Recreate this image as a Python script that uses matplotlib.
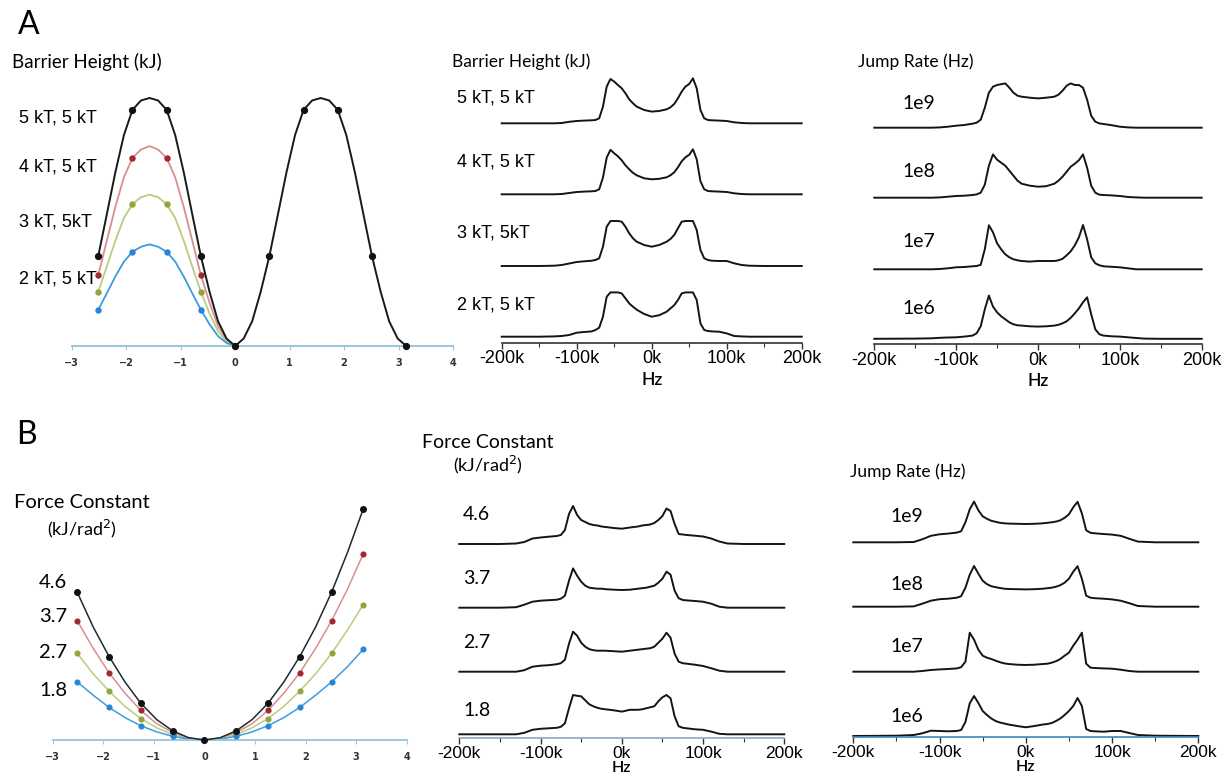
import numpy as np
import matplotlib.pyplot as plt

# ---- data ---------------------------------------------------------------

# panel A left: torsional potential (kT), grid of pi/20 steps from -0.8pi to pi
THETA_A = np.arange(-16, 21) * np.pi / 20
POT_5KT = [1.81, 2.65, 3.5, 4.25, 4.76, 4.95, 5.0, 4.95, 4.76, 4.25, 3.5, 2.65, 1.81,
           1.1, 0.5, 0.15, 0.0, 0.15, 0.5, 1.1, 1.81, 2.65, 3.5, 4.25, 4.76, 4.95, 5.0,
           4.95, 4.76, 4.25, 3.5, 2.65, 1.81, 1.1, 0.5, 0.15, 0.0]
POT_4KT = [1.43, 2.12, 2.8, 3.4, 3.79, 3.96, 4.03, 3.96, 3.79, 3.4, 2.8, 2.12, 1.43,
           0.88, 0.4, 0.12, 0.0]
POT_3KT = [1.09, 1.6, 2.12, 2.58, 2.86, 3.0, 3.05, 3.0, 2.86, 2.58, 2.12, 1.6, 1.09,
           0.66, 0.3, 0.09, 0.0]
POT_2KT = [0.73, 1.06, 1.4, 1.7, 1.9, 2.0, 2.05, 2.0, 1.9, 1.7, 1.4, 1.06, 0.73,
           0.44, 0.2, 0.06, 0.0]

# panel B left: harmonic potential (kJ), grid of pi/10 steps from -0.8pi to pi
THETA_B = np.arange(-8, 11) * np.pi / 10
HARM_46 = [14.5, 11.1, 8.2, 5.7, 3.6, 2.0, 0.9, 0.23, 0.0, 0.23, 0.9, 2.0, 3.6, 5.7,
           8.2, 11.1, 14.5, 18.4, 22.7]
HARM_37 = [11.7, 9.0, 6.6, 4.6, 2.9, 1.6, 0.73, 0.18, 0.0, 0.18, 0.73, 1.6, 2.9, 4.6,
           6.6, 9.0, 11.7, 14.8, 18.3]
HARM_27 = [8.5, 6.5, 4.8, 3.3, 2.1, 1.2, 0.53, 0.13, 0.0, 0.13, 0.53, 1.2, 2.1, 3.3,
           4.8, 6.5, 8.5, 10.8, 13.3]
HARM_18 = [5.7, 4.4, 3.2, 2.2, 1.4, 0.8, 0.36, 0.09, 0.0, 0.09, 0.36, 0.8, 1.4, 2.2,
           3.2, 4.4, 5.7, 7.2, 8.9]

# simulated spectra, frequency in kHz, intensity in arbitrary units
FREQ = [-200, -150, -130, -120, -110, -100, -90, -80, -75, -70, -65, -60, -55, -50,
        -45, -40, -35, -30, -25, -20, -10, 0, 10, 20, 25, 30, 35, 40, 45, 50, 55, 60,
        65, 70, 75, 80, 90, 100, 110, 120, 130, 150, 200]

BARRIER_LABELS = ["5 kT, 5 kT", "4 kT, 5 kT", "3 kT, 5kT", "2 kT, 5 kT"]
SPEC_BARRIER = [
    [0, 0, 0, 0.3, 1.5, 2.3, 2.7, 3, 3.3, 5, 16.7, 36.7, 44.3, 41.7, 38.3, 35, 30, 24,
     20, 16.7, 13.3, 11.7, 12.3, 14, 16, 19.3, 25, 31.7, 36.7, 39.3, 45, 35, 13.3, 5,
     3.3, 3, 2.7, 2.3, 1, 0.3, 0, 0, 0],
    [0, 0, 0, 0.3, 1.3, 2.3, 2.7, 3, 3.3, 5, 16.7, 36.7, 44.5, 41, 38, 34, 29, 25,
     21.5, 19, 16, 15, 15.5, 17, 19, 22, 27, 33, 37, 39.5, 45, 35, 13, 5, 3.3, 3, 2.7,
     2.3, 1, 0.3, 0, 0, 0],
    [0, 0, 0.3, 1, 2.5, 4, 4.7, 5.3, 6, 7.7, 19.3, 39.3, 45, 45, 45, 44.3, 39.3, 32.7,
     27.7, 24.3, 21, 19.3, 21, 24.3, 27, 31, 37.7, 44.3, 45, 45, 45, 36, 16, 7.7, 6,
     5.3, 5, 5, 2.7, 1, 0.3, 0, 0],
    [0, 0, 0.3, 0.7, 1.7, 4, 4.7, 5.3, 6.7, 9, 20, 40, 44.3, 44.3, 44.3, 43.3, 38.3,
     33.3, 30, 27, 22.7, 20, 21.5, 25, 28.3, 31.5, 36.7, 43.3, 44.3, 44.3, 44.3, 36.7,
     13.3, 6.7, 5.7, 5.3, 5, 3.3, 0.7, 0.3, 0, 0, 0],
]

RATE_LABELS = ["1e9", "1e8", "1e7", "1e6"]
SPEC_RATE_A = [
    [0, 0, 0, 0.3, 1, 2, 2.7, 4, 5, 8, 20, 35, 41, 42.7, 43.5, 44.3, 40, 35, 32, 31,
     30, 29.3, 30, 31, 33, 37, 42, 44.3, 42.7, 42.7, 40, 28, 12, 6, 4.3, 3.7, 2.5, 1,
     0.3, 0, 0, 0, 0],
    [0, 0, 0, 0.3, 1, 1.7, 2, 2.7, 3.3, 5, 13, 32, 43.3, 38, 35, 32, 27, 22, 17, 14,
     12, 11, 11.5, 14, 17, 21, 26, 31, 34, 37.5, 43.3, 30, 12, 5, 3, 2.7, 2.3, 1.7,
     0.7, 0.3, 0, 0, 0],
    [0, 0, 0, 0.3, 1, 2, 2.3, 3, 3.3, 4.5, 20, 44, 37, 26, 20, 15, 12, 10, 9, 8.3,
     7.7, 8.3, 8.3, 8.3, 9, 10.5, 14, 18, 24, 32, 44.3, 30, 12, 6, 4, 3, 2.5, 2, 1,
     0, 0, 0, 0],
    [0.5, 0.7, 1, 1.5, 1.8, 2, 2.7, 3.7, 6, 13, 30, 43.7, 32.7, 27, 23, 20, 17, 15,
     14, 13.7, 13, 12.7, 13, 13.7, 14.5, 16, 18, 21.5, 26, 31, 37, 42, 25, 10, 5, 3.7,
     3, 2.7, 2, 1.3, 0.7, 0.5, 0.5],
]

FORCE_LABELS = ["4.6", "3.7", "2.7", "1.8"]
SPEC_FORCE = [
    [0, 0, 0.5, 2, 5.5, 6.5, 7.3, 8, 9, 14, 30, 38, 29, 24, 22, 20, 19, 18.5, 17.5,
     17, 16, 15.3, 16.5, 17.5, 18.5, 19, 19.5, 21, 24, 28, 35.5, 33, 20, 10, 9.5, 9,
     8.3, 7.5, 5.5, 2.5, 0.5, 0, 0],
    [0, 0, 0.5, 3, 6, 7, 7.5, 8, 9, 12, 27, 39.3, 32, 26, 22, 20, 19.5, 19, 19, 18.5,
     18, 17.7, 18, 19, 19.5, 20, 21, 22, 25, 29, 36, 33, 17, 9.5, 7.7, 7.3, 6.7, 6, 4,
     1, 0, 0, 0],
    [0, 0, 0, 1.5, 5, 6, 6.5, 7.5, 8.5, 12, 28, 40, 36, 29, 25, 22.5, 21.5, 21, 21,
     21, 20.5, 20, 21, 22, 22.5, 23, 23.5, 25, 29, 33, 39, 34, 18, 10, 8.5, 8, 7, 5.7,
     3.5, 1, 0, 0, 0],
    [0, 0, 0, 1.5, 4.5, 5.5, 6, 6.5, 7.5, 11, 26, 39.3, 38.5, 38, 34, 30, 28, 26.5,
     25.5, 25, 24, 22.7, 24.5, 24.5, 25, 26, 27, 28, 33, 37, 39.3, 36, 18, 8, 6.5, 6,
     5, 4.5, 2.7, 0.5, 0, 0, 0],
]

SPEC_RATE_B = [
    [0, 0, 0.3, 3, 6.5, 8, 8.7, 9.7, 11, 20, 33, 40.7, 32, 26, 23.5, 21.5, 20.5, 19.5,
     19, 18.7, 18.5, 18.3, 18.5, 19, 19.5, 20, 20.7, 22, 24.5, 28, 35, 40.5, 29, 12,
     9.5, 9, 8.3, 7.7, 6.5, 3.5, 0.7, 0, 0],
    [0, 0, 0.3, 3, 6, 7.5, 8, 9, 10.5, 19, 32, 40.7, 33, 26, 22.5, 20.5, 19.5, 18.7,
     18, 17.7, 17.5, 17.3, 17.5, 18, 18.5, 19, 20, 21.5, 24, 28, 35, 40.5, 28, 11, 9,
     8.5, 8, 7.3, 6, 3.5, 0.7, 0, 0],
    [0, 0, 0, 0.7, 1.7, 2.3, 2.7, 3.3, 4.5, 10, 39, 32, 22, 16, 14, 12.7, 11, 9.5,
     8.3, 7.7, 7, 6.7, 7, 7.7, 8, 9, 10.5, 12.7, 16, 19, 26, 32, 39, 8, 4, 3.7, 3.3,
     3, 2, 0.7, 0, 0, 0],
    [0, 0.3, 1, 2.7, 5.3, 5, 4.7, 5, 6, 14, 32.7, 40, 33, 25, 21, 17.5, 15, 13.5,
     12.5, 11.5, 10, 8.7, 10, 11.5, 12, 13, 15, 17.5, 21, 25, 30, 38, 30, 7, 5, 4.7,
     4.3, 5, 5, 3, 1, 0.3, 0],
]

# ---- figure --------------------------------------------------------------
W, H = 1224, 783
fig = plt.figure(figsize=(W / 100, H / 100), dpi=100)
fig.patch.set_facecolor("white")

GEO = ["Lato", "DejaVu Sans"]
ARIAL = ["Liberation Sans", "DejaVu Sans"]


def px_axes(left, top, right, bottom):
    return fig.add_axes([left / W, 1 - bottom / H, (right - left) / W,
                         (bottom - top) / H])


def px_text(x, y, s, **kw):
    kw.setdefault("va", "center")
    fig.text(x / W, 1 - y / H, s, **kw)


def strip(ax, axis_color):
    for side in ["top", "right", "left"]:
        ax.spines[side].set_visible(False)
    ax.spines["bottom"].set_color(axis_color)
    ax.set_yticks([])
    ax.patch.set_alpha(0)


# potential panels
def potential_axes(box, xlim, ylim):
    ax = px_axes(*box)
    strip(ax, "#9ec6dd")
    ax.spines["bottom"].set_linewidth(1.4)
    ax.set_xlim(*xlim)
    ax.set_ylim(*ylim)
    ax.set_xticks(range(-3, 5))
    ax.tick_params(axis="x", length=3, width=0.8, color="#9ec6dd", pad=6,
                   labelsize=7, labelcolor="#333333")
    for t in ax.get_xticklabels():
        t.set_fontweight("bold")
    return ax


LINE_COLORS = ["#d98e90", "#b9cc7e", "#3a9de2"]
MARK_COLORS = ["#a0282e", "#8fa63e", "#2a84d4"]

ax = potential_axes((71.7, 85, 453, 346), (-3, 4), (0, 261 / 49.6))
for ys, lc, mc in zip([POT_4KT, POT_3KT, POT_2KT], LINE_COLORS, MARK_COLORS):
    th = THETA_A[:len(ys)]
    ax.plot(th, ys, color=lc, lw=1.3, clip_on=False, zorder=2)
    ax.plot(th[::4], ys[::4], "o", color=mc, ms=3.6, clip_on=False, zorder=3)
ax.plot(THETA_A, POT_5KT, color="#151a1c", lw=1.4, clip_on=False, zorder=4)
ax.plot(THETA_A[::4], POT_5KT[::4], "o", color="#111111", ms=4.2, clip_on=False,
        zorder=5)

ax = potential_axes((52.7, 500, 406.7, 740), (-3, 4), (0, 240 / 10.18))
for ys, lc, mc in zip([HARM_37, HARM_27, HARM_18], LINE_COLORS, MARK_COLORS):
    ax.plot(THETA_B, ys, color=lc, lw=1.1, clip_on=False, zorder=2)
    ax.plot(THETA_B[::2], ys[::2], "o", color=mc, ms=3.4, clip_on=False, zorder=3)
ax.plot(THETA_B, HARM_46, color="#1d2a30", lw=1.1, clip_on=False, zorder=4)
ax.plot(THETA_B[::2], HARM_46[::2], "o", color="#111111", ms=4.0, clip_on=False,
        zorder=5)


# spectrum panels
def spectra_axes(x0, x1, axis_y, baselines, traces, axis_color, tick_size,
                 hz_size, labelpad):
    ax = px_axes(x0, axis_y - 290, x1, axis_y)
    strip(ax, axis_color)
    ax.spines["bottom"].set_linewidth(1.2)
    ax.set_xlim(-200, 200)
    ax.set_ylim(0, 290)
    ax.set_xticks([-200, -100, 0, 100, 200])
    ax.set_xticklabels([f"{v}k" for v in [-200, -100, 0, 100, 200]],
                       family=ARIAL, fontsize=tick_size)
    ax.set_xticks([-150, -50, 50, 150], minor=True)
    ax.tick_params(axis="x", which="major", length=4.5, width=1.0,
                   color="#333333", pad=1)
    ax.tick_params(axis="x", which="minor", length=3, width=0.8, color="#333333")
    ax.set_xlabel("Hz", family=GEO, fontsize=hz_size, fontweight="semibold",
                  labelpad=labelpad)
    for base, ys in zip(baselines, traces):
        off = axis_y - base
        ax.plot(FREQ, np.asarray(ys) + off, color="#141414", lw=1.4,
                solid_joinstyle="round", clip_on=False)
    return ax


spectra_axes(501.7, 801.7, 342.7, [123.3, 194.3, 266, 336.7], SPEC_BARRIER,
             "#333333", 13, 12.5, 3)
spectra_axes(874.3, 1201.7, 344, [127.7, 197.7, 269.3, 339.3], SPEC_RATE_A,
             "#333333", 13, 12.5, 3)
spectra_axes(459.3, 784.3, 738.3, [544, 607.7, 671.7, 734.3], SPEC_FORCE,
             "#8ea6c6", 12.5, 11.5, 0)
spectra_axes(853.3, 1198.3, 737.3, [542.3, 606.7, 671.7, 736], SPEC_RATE_B,
             "#3f86b8", 12.5, 11.5, 0)

# ---- text ----------------------------------------------------------------
px_text(18, 25, "A", family=GEO, fontsize=23)
px_text(16, 435, "B", family=GEO, fontsize=23)

px_text(12, 62, "Barrier Height (kJ)", family=GEO, fontsize=13.5)
px_text(452, 62, "Barrier Height (kJ)", family=GEO, fontsize=12.5)
px_text(858, 62, "Jump Rate (Hz)", family=GEO, fontsize=12.5)

px_text(82, 502, "Force Constant", family=GEO, fontsize=14.5, ha="center")
px_text(82, 529, "(kJ/rad$^2$)", family=GEO, fontsize=13, ha="center")
px_text(488, 443, "Force Constant", family=GEO, fontsize=14, ha="center")
px_text(488, 465, "(kJ/rad$^2$)", family=GEO, fontsize=13, ha="center")
px_text(850, 472, "Jump Rate (Hz)", family=GEO, fontsize=12.5)

for lab, y in zip(BARRIER_LABELS, [118.3, 166.7, 221.7, 279.3]):
    px_text(19, y, lab, family=ARIAL, fontsize=13)
for lab, y in zip(BARRIER_LABELS, [98.3, 161.7, 233, 305]):
    px_text(457, y, lab, family=ARIAL, fontsize=13)
for lab, y in zip(RATE_LABELS, [103.3, 171.7, 241.7, 308.3]):
    px_text(902, y, lab, family=GEO, fontsize=14)
for lab, y in zip(FORCE_LABELS, [583, 616, 652, 690]):
    px_text(67, y, lab, family=GEO, fontsize=14.5, ha="right")
for lab, y in zip(FORCE_LABELS, [515, 579, 643, 710]):
    px_text(463, y, lab, family=GEO, fontsize=14)
for lab, y in zip(RATE_LABELS, [516.7, 585, 646.7, 716.7]):
    px_text(890, y, lab, family=GEO, fontsize=14)

fig.savefig("out.png", dpi=100, facecolor="white")
